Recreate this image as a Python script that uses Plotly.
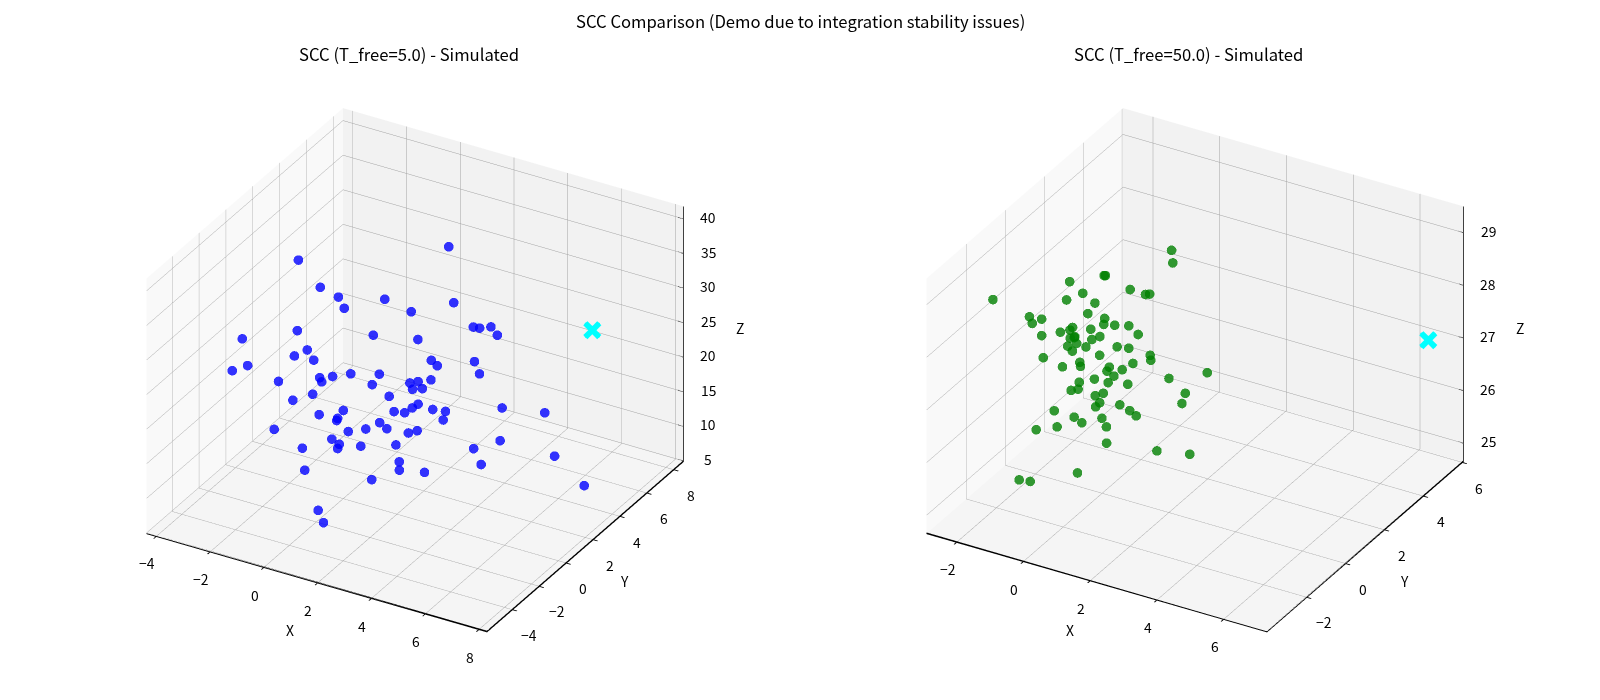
import plotly.graph_objects as go

# Values
BLUE_X = [-1.17,-2.23,-0.58,-1.94,0.69,2.65,-3.31,0.94,-4.09,-0.99,-3.27,-1.65,-4.04,-4.10,-3.11,-0.38,-2.18,-0.80,-1.70,0.49,1.20,2.32,3.93,3.76,5.42,4.04,5.18,1.55,3.25,1.67,5.38,3.69,2.86,0.50,1.93,2.70,1.34,1.53,-2.95,-0.79,-2.35,-0.55,-1.44,-0.27,0.06,2.78,1.19,2.38,1.35,2.95,3.84,-3.27,0.01,-0.24,1.70,0.17,1.87,1.52,-0.45,-0.85,0.29,-2.22,0.25,-0.02,1.23,2.21,2.32,0.88,-1.77,-0.10,0.39,5.28,3.62,5.10,4.08,6.79,6.48,8.04]
BLUE_Y = [-1.00,2.75,0.80,3.95,1.70,-0.25,3.20,0.35,0.67,-0.70,2.90,1.10,0.96,-0.06,1.40,-1.00,2.75,0.80,3.95,1.70,-0.25,3.20,0.35,2.15,-0.70,2.90,1.10,2.45,0.05,3.65,-1.00,2.75,0.80,3.95,1.70,-0.25,3.20,0.35,2.15,-0.70,2.90,1.10,2.45,0.05,3.65,-1.00,2.75,0.80,3.95,1.70,-0.25,1.40,0.35,2.15,-0.70,2.90,1.10,2.45,0.05,1.40,-1.00,1.40,0.80,3.95,1.70,-0.25,1.40,0.35,0.67,-1.67,-2.25,1.10,2.45,0.05,3.65,1.40,2.75,1.84]
BLUE_Z = [39.79,28.33,32.07,23.60,31.66,35.34,20.11,29.03,22.31,26.49,17.00,21.25,18.01,18.93,16.02,23.67,14.72,20.34,14.40,20.61,23.18,38.55,37.08,30.33,36.84,29.40,32.51,25.54,28.48,19.86,32.46,22.47,23.96,15.55,21.15,24.19,16.94,20.84,12.22,20.32,9.54,15.20,10.79,15.83,11.42,22.15,14.74,19.90,12.67,17.99,21.03,8.91,14.05,11.10,19.00,10.34,14.66,12.32,12.94,9.47,14.19,7.37,11.44,6.01,8.76,11.94,8.97,8.07,5.93,5.94,5.68,17.37,12.08,15.50,16.46,22.59,13.70,12.73]
GREEN_X = [-2.68,-1.98,-0.34,-1.28,-1.26,-1.14,-1.36,0.58,0.48,1.49,-1.48,-2.67,-2.68,-1.98,-1.21,0.21,-0.63,0.40,-0.30,-1.93,-0.96,-2.11,-0.60,-2.63,0.00,-1.36,-1.31,-1.87,-1.00,-2.05,-0.87,-1.49,-1.29,-0.93,0.12,-0.15,-2.35,1.18,0.64,0.99,-2.24,-1.16,-1.56,0.05,-1.14,0.76,-0.65,-0.63,-1.20,0.09,1.93,-1.83,-1.19,-1.54,0.10,-1.26,2.00,1.48,-0.24,-1.48,0.69,-0.18,0.62,-2.02,-1.52,-0.68,-1.15,-0.13,-2.17,-1.91,-0.92,1.15,-0.91,-2.07,-1.74,3.31,1.62,1.68,0.74]
GREEN_Y = [-1.02,1.72,0.68,2.36,1.16,0.12,1.96,0.44,1.40,-0.12,1.80,0.84,1.00,0.28,2.20,-0.28,1.72,0.68,2.36,1.16,0.12,1.96,0.44,1.40,-0.12,1.80,0.84,1.56,0.28,2.20,-0.28,1.72,0.68,2.36,1.16,0.12,1.00,0.44,1.40,-0.12,1.80,0.84,1.56,0.28,2.20,-0.28,1.72,0.68,2.36,1.16,0.12,1.96,0.44,1.40,-0.12,1.80,0.84,1.56,0.28,2.20,-0.28,1.72,0.68,1.00,1.16,0.12,1.96,0.44,1.40,-0.12,1.80,0.84,0.29,-0.72,-0.72,-0.28,1.72,0.68,2.36]
GREEN_Z = [28.17,27.76,28.51,27.80,27.85,28.08,27.39,28.49,28.07,28.75,27.22,27.25,27.07,27.51,27.05,27.99,27.18,27.69,26.86,26.99,27.59,26.74,27.52,26.72,27.67,26.75,27.12,26.76,27.34,26.42,27.38,26.61,26.90,26.51,27.06,27.21,26.48,27.35,26.85,27.34,26.07,26.66,26.28,26.97,26.06,27.23,26.21,26.49,25.78,26.37,27.15,25.80,26.25,25.90,26.61,25.70,26.65,26.13,26.24,25.32,26.55,25.64,26.02,25.53,25.45,25.83,25.24,25.75,25.07,25.55,24.86,25.40,24.78,24.76,24.79,27.64,25.14,29.36,28.41]
CYAN_LEFT = [6.26, 6.00, 26.19]
CYAN_RIGHT = [7.06, 4.64, 27.37]

X_RANGE_L, Y_RANGE_L, Z_RANGE_L = [-4.36, 8.3], [-5.9, 8.7], [4.9, 41.8]
X_RANGE_R, Y_RANGE_R, Z_RANGE_R = [-2.9, 7.3], [-4.05, 6.05], [24.65, 29.5]
X_TICKS_L, Y_TICKS_L, Z_TICKS_L = [-4, -2, 0, 2, 4, 6, 8], [-4, -2, 0, 2, 4, 6, 8], [5, 10, 15, 20, 25, 30, 35, 40]
X_TICKS_R, Y_TICKS_R, Z_TICKS_R = [-2, 0, 2, 4, 6], [-2, 0, 2, 4, 6], [25, 26, 27, 28, 29]

TITLE = "SCC Comparison (Demo due to integration stability issues)"
TITLE_L = "SCC (T_free=5.0) - Simulated"
TITLE_R = "SCC (T_free=50.0) - Simulated"

FONT = "Noto Sans CJK SC"
GRID = "#a2a2a2"
TXT = dict(family=FONT, size=13.9, color="black")


def fmt(v):
    return str(v).replace("-", "\u2212")


def label(x, y, z, text, dx, dy):
    return dict(x=x, y=y, z=z, text=text, showarrow=False, xshift=dx, yshift=-dy,
                xanchor="center", yanchor="middle", font=TXT)


def axis(rng, ticks, bg, has_ticks=True):
    return dict(title=dict(text=""), range=rng, tickvals=ticks, showticklabels=False,
                showbackground=True, backgroundcolor=bg, gridcolor=GRID, gridwidth=1,
                showline=has_ticks, linecolor="black", linewidth=2,
                ticks="outside" if has_ticks else "", ticklen=5, tickwidth=2, tickcolor="black",
                zeroline=False, showspikes=False)


def scene(xr, yr, zr, xt, yt, zt, dom, cyan):
    anns = [label(v, yr[0], zr[0], fmt(v), -9, 27) for v in xt]
    anns += [label(xr[1], v, zr[0], fmt(v), 17, 25) for v in yt]
    anns += [label(xr[1], yr[1], v, fmt(v), 25, -2) for v in zt]
    anns += [label(sum(xr) / 2, yr[0], zr[0], "X", -27, 47),
             label(xr[1], sum(yr) / 2, zr[0], "Y", 39, 34),
             label(xr[1], yr[1], sum(zr) / 2, "Z", 57, -6)]
    # plotly's own x glyph is too thin, so the marker gets a heavy one on top
    anns.append(dict(x=cyan[0], y=cyan[1], z=cyan[2], text="\u2716", showarrow=False,
                     xanchor="center", yanchor="middle",
                     font=dict(family="DejaVu Sans", size=27, weight="bold", color="#00ffff")))
    return dict(domain=dict(x=dom, y=[0.0157, 0.9267]), aspectmode="manual",
                aspectratio=dict(x=1.232, y=1.232, z=0.924),
                xaxis=axis(xr, xt, "#f9f9f9"), yaxis=axis(yr, yt, "#f2f2f2"),
                zaxis=axis(zr, zt, "#f5f5f5", False), annotations=anns,
                camera=dict(eye=dict(x=0.674, y=-1.168, z=0.779), up=dict(x=0, y=0, z=1),
                            center=dict(x=0, y=0, z=0), projection=dict(type="orthographic")))


def add_edges(fig, sc, xr, yr, zr, zt):
    """Black x, y and z axis edges; plotly would put the z axis on the left.
    The floor edges sit a hair above the floor or they fight with the pane."""
    lift = zr[0] + (zr[1] - zr[0]) * 0.003
    xs = [xr[0], xr[1], None, xr[1], xr[1], None, xr[1], xr[1]]
    ys = [yr[0], yr[0], None, yr[0], yr[1], None, yr[1], yr[1]]
    zs = [lift, lift, None, lift, lift, None, zr[0], zr[1]]
    for v in zt:
        xs += [None, xr[1], xr[1] - (xr[1] - xr[0]) * 0.016]
        ys += [None, yr[1], yr[1]]
        zs += [None, v, v]
    fig.add_trace(go.Scatter3d(x=xs, y=ys, z=zs, mode="lines", scene=sc, showlegend=False,
                               line=dict(color="black", width=1.5), hoverinfo="skip"))


def add_points(fig, sc, xs, ys, zs, color):
    fig.add_trace(go.Scatter3d(x=xs, y=ys, z=zs, mode="markers", scene=sc, opacity=0.8, showlegend=False,
                               marker=dict(color=color, size=5.6, line=dict(width=0))))


def add_cyan(fig, sc, c):
    fig.add_trace(go.Scatter3d(x=[c[0]], y=[c[1]], z=[c[2]], mode="markers", scene=sc, showlegend=False,
                               marker=dict(color="#00ffff", size=3.5, symbol="x")))


fig = go.Figure()
add_points(fig, "scene", BLUE_X, BLUE_Y, BLUE_Z, "#0000ff")
add_cyan(fig, "scene", CYAN_LEFT)
add_edges(fig, "scene", X_RANGE_L, Y_RANGE_L, Z_RANGE_L, Z_TICKS_L)
add_points(fig, "scene2", GREEN_X, GREEN_Y, GREEN_Z, "#008000")
add_cyan(fig, "scene2", CYAN_RIGHT)
add_edges(fig, "scene2", X_RANGE_R, Y_RANGE_R, Z_RANGE_R, Z_TICKS_R)

fig.update_layout(
    width=1600, height=700, margin=dict(l=0, r=0, t=0, b=0), paper_bgcolor="white", showlegend=False,
    scene=scene(X_RANGE_L, Y_RANGE_L, Z_RANGE_L, X_TICKS_L, Y_TICKS_L, Z_TICKS_L, [0.0093, 0.5093], CYAN_LEFT),
    scene2=scene(X_RANGE_R, Y_RANGE_R, Z_RANGE_R, X_TICKS_R, Y_TICKS_R, Z_TICKS_R, [0.4969, 0.9969], CYAN_RIGHT),
    annotations=[dict(text=t, x=x, y=y, xref="paper", yref="paper", xanchor="center", yanchor="middle",
                      showarrow=False, font=dict(family=FONT, size=16.67, color="black"))
                 for t, x, y in [(TITLE, 0.5, 0.97), (TITLE_L, 0.2556, 0.923), (TITLE_R, 0.7431, 0.923)]],
)
fig.write_html("out.html", config=dict(displayModeBar=False), post_script="document.body.style.margin='0';")
